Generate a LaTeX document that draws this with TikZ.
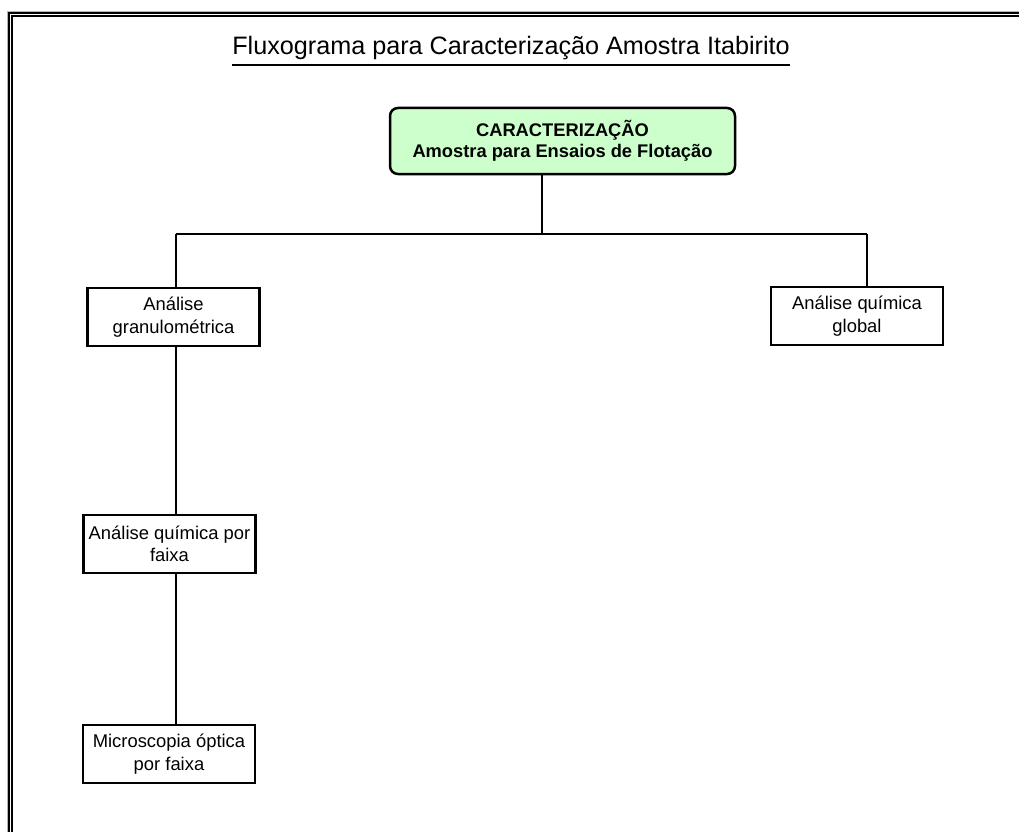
\documentclass[tikz,border=0pt]{standalone}
\usepackage{fontspec}
\setmainfont{Liberation Sans}
\begin{document}
\begin{tikzpicture}[x=1pt,y=-1pt,
  box/.style={draw=black,line width=2.5pt,fill=white,minimum width=172pt,minimum height=58pt,
    align=center,inner sep=0pt,font=\fontsize{18.4}{22.5}\selectfont},
  topbox/.style={draw=black,line width=2.5pt,fill=green!20,rounded corners=8pt,minimum width=345pt,
    minimum height=66pt,align=center,inner sep=0pt,font=\bfseries\fontsize{18.3}{21.5}\selectfont},
  conn/.style={line width=2.2pt}]
\useasboundingbox (0,0) rectangle (1019,832);
% frame
\draw[gray!60,line width=1pt] (7.5,832) -- (7.5,11.5) -- (1019,11.5);
\draw[line width=2.5pt] (9.2,832) -- (9.2,13.2) -- (1019,13.2);
\draw[line width=1.8pt] (12,832) -- (12,16) -- (1019,16);
% title
\node[inner xsep=0pt,font=\fontsize{25.2}{28}\selectfont] (title) at (511,48.5) {Fluxograma para Caracterização Amostra Itabirito};
\draw[line width=1.7pt] ([yshift=-10pt]title.base west) -- ([yshift=-10pt]title.base east);
% nodes
\node[topbox] (top) at (562.5,141) {CARACTERIZAÇÃO\\Amostra para Ensaios de Flotação};
\node[box] (gran) at (173.5,317) {Análise\\granulométrica};
\node[box] (glob) at (857,316) {Análise química\\global};
\node[box] (quim) at (169.5,544) {Análise química por\\faixa};
\node[box] (micro) at (169,754) {Microscopia óptica\\por faixa};
% junctions
\coordinate (j) at (542,234);
\coordinate (jl) at (176,234);
\coordinate (jr) at (867,234);
\draw[conn] (top.south -| j) -- (j);
\draw[conn] (jl) -- (jr);
\draw[conn] (jl) -- (jl |- gran.north);
\draw[conn] (jr) -- (jr |- glob.north);
\draw[conn] (gran.south -| jl) -- (quim.north -| jl);
\draw[conn] (quim.south -| jl) -- (micro.north -| jl);
\end{tikzpicture}
\end{document}
